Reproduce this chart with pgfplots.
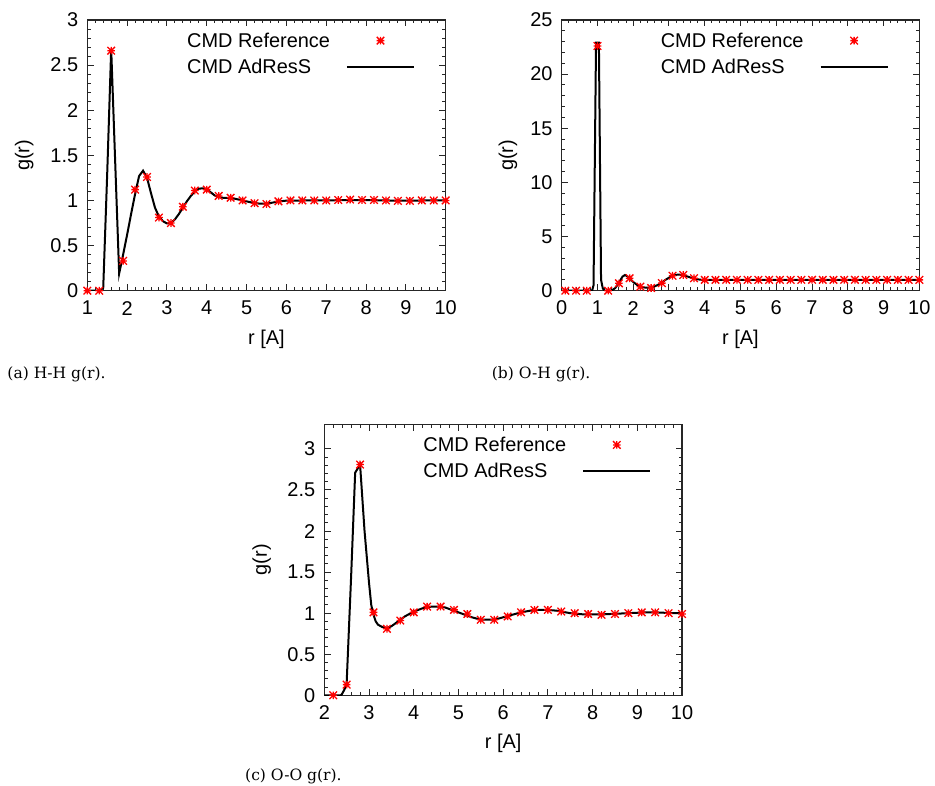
\documentclass[border=0pt]{standalone}
\usepackage{pgfplots}
\pgfplotsset{compat=1.18}
\usepackage{fontspec}
\setmainfont{Liberation Sans}
\newfontfamily\capfont{DejaVu Serif}
\pgfdeclareplotmark{gpstar}{%
  \pgfpathmoveto{\pgfqpoint{-\pgfplotmarksize}{0pt}}\pgfpathlineto{\pgfqpoint{\pgfplotmarksize}{0pt}}%
  \pgfpathmoveto{\pgfqpoint{0pt}{-\pgfplotmarksize}}\pgfpathlineto{\pgfqpoint{0pt}{\pgfplotmarksize}}%
  \pgfpathmoveto{\pgfqpoint{-\pgfplotmarksize}{-\pgfplotmarksize}}\pgfpathlineto{\pgfqpoint{\pgfplotmarksize}{\pgfplotmarksize}}%
  \pgfpathmoveto{\pgfqpoint{-\pgfplotmarksize}{\pgfplotmarksize}}\pgfpathlineto{\pgfqpoint{\pgfplotmarksize}{-\pgfplotmarksize}}%
  \pgfusepathqstroke}
\pgfplotsset{
  gpaxis/.style={
    scale only axis,
    anchor=south west,
    /pgf/number format/assume math mode=true,
    font=\fontsize{20}{24}\selectfont,
    tick label style={font=\fontsize{20}{24}\selectfont},
    axis line style={line width=1.2pt, black!85},
    tick style={line width=1pt, black!85},
    tick align=inside,
    major tick length=6.5pt,
    minor tick length=3.5pt,
    minor x tick num=4,
    minor y tick num=4,
    xticklabel style={anchor=center, inner sep=0pt, yshift=-17.5pt},
    yticklabel style={anchor=east, inner sep=0pt, xshift=-9pt},
    xlabel={r [A]},
    ylabel={g(r)},
    xlabel style={at={(axis description cs:0.5,-0.178)}, anchor=center, inner sep=0pt},
    legend cell align=left,
    legend plot pos=right,
    legend style={draw=none, fill=none, at={(axis description cs:1,1)}, anchor=north east,
      xshift=-30.7bp, yshift=-12.7bp, inner sep=0pt, outer sep=0pt,
      font=\fontsize{20}{24}\selectfont, row sep=10.4bp, nodes={inner sep=0pt},
      /tikz/every odd column/.style={column sep=16bp}},
  },
  refstyle/.style={only marks, mark=gpstar, mark size=3.8pt, color=red,
    mark options={line width=1.3pt},
    legend image code/.code={\draw[mark repeat=2,mark phase=2,##1] plot coordinates {(0bp,0bp) (33.5bp,0bp) (67bp,0bp)};}},
  linestyle/.style={black, line width=2bp, sharp plot, no marks,
    legend image code/.code={\draw[##1] (0bp,0bp) -- (67bp,0bp);}},
}
\begin{document}
\begin{tikzpicture}[x=1bp,y=1bp]
\useasboundingbox (0,0) rectangle (935,786);
% (a) H-H
\begin{axis}[gpaxis, at={(87.3bp,495.3bp)}, width=358.4bp, height=270.7bp,
  xmin=1, xmax=10, ymin=0, ymax=3, xtick={1,2,...,10}, ytick={0,0.5,...,3},
  ylabel style={at={(axis description cs:-0.176,0.5)}, anchor=center, inner sep=0pt, rotate=0}]
\addplot[refstyle] coordinates {
(1.0,0) (1.3,0) (1.6,2.66) (1.9,0.33) (2.2,1.12) (2.5,1.26) (2.8,0.81) (3.1,0.75)
(3.4,0.93) (3.7,1.11) (4.0,1.12) (4.3,1.05) (4.6,1.03) (4.9,1.00) (5.2,0.97) (5.5,0.96)
(5.8,0.99) (6.1,1.00) (6.4,1.00) (6.7,1.00) (7.0,1.00) (7.3,1.005) (7.6,1.01) (7.9,1.005)
(8.2,1.005) (8.5,1.00) (8.8,0.995) (9.1,0.995) (9.4,1.00) (9.7,1.00) (10.0,1.00)};
\addlegendentry{CMD Reference}
\addplot[linestyle] coordinates {
(1.0,0) (1.1,0) (1.2,0) (1.3,0) (1.4,0.03) (1.5,1.3) (1.6,2.68) (1.7,1.43) (1.8,0.19)
(1.9,0.4) (2.0,0.62) (2.1,0.85) (2.2,1.07) (2.3,1.27) (2.4,1.33) (2.5,1.25) (2.6,1.08)
(2.7,0.92) (2.8,0.82) (2.9,0.77) (3.0,0.745) (3.1,0.75) (3.2,0.79) (3.3,0.85) (3.4,0.92)
(3.5,0.99) (3.6,1.05) (3.7,1.10) (3.8,1.13) (3.9,1.135) (4.0,1.12) (4.1,1.09) (4.2,1.055)
(4.3,1.035) (4.4,1.03) (4.5,1.028) (4.6,1.025) (4.7,1.02) (4.8,1.01) (4.9,1.0) (5.0,0.99)
(5.1,0.98) (5.2,0.972) (5.3,0.966) (5.4,0.964) (5.5,0.965) (5.6,0.972) (5.7,0.98)
(5.8,0.987) (5.9,0.993) (6.0,0.998) (6.5,1.0) (7.0,1.0) (7.5,1.005) (8.0,1.005) (8.5,1.0)
(9.0,0.997) (9.5,1.0) (10.0,1.0)};
\addlegendentry{CMD AdResS}
\end{axis}
% (b) O-H
\begin{axis}[gpaxis, at={(561.7bp,495.3bp)}, width=357.6bp, height=270.7bp,
  xmin=0, xmax=10, ymin=0, ymax=25, xtick={0,1,...,10}, ytick={0,5,...,25},
  ylabel style={at={(axis description cs:-0.150,0.5)}, anchor=center, inner sep=0pt}]
\addplot[refstyle] coordinates {
(0.1,0) (0.4,0) (0.7,0) (1.0,22.6) (1.3,0) (1.6,0.68) (1.9,1.15) (2.2,0.37) (2.5,0.25)
(2.8,0.7) (3.1,1.38) (3.4,1.45) (3.7,1.15) (4.0,1.0) (4.3,1.0) (4.6,1.0) (4.9,1.0)
(5.2,1.0) (5.5,1.0) (5.8,1.0) (6.1,1.0) (6.4,1.0) (6.7,1.0) (7.0,1.0) (7.3,1.0) (7.6,1.0)
(7.9,1.0) (8.2,1.0) (8.5,1.0) (8.8,1.0) (9.1,1.0) (9.4,1.0) (9.7,1.0) (10.0,1.0)};
\addlegendentry{CMD Reference}
\addplot[linestyle] coordinates {
(0,0) (0.5,0) (0.85,0) (0.89,0.5) (0.96,22.9) (1.04,22.9) (1.1,1.0) (1.15,0.2) (1.2,0)
(1.3,0) (1.4,0.02) (1.5,0.25) (1.6,0.75) (1.7,1.3) (1.77,1.45) (1.85,1.3) (1.9,1.15)
(2.0,0.8) (2.1,0.55) (2.2,0.4) (2.3,0.3) (2.4,0.27) (2.5,0.3) (2.6,0.4) (2.7,0.55)
(2.8,0.75) (2.9,1.0) (3.0,1.2) (3.1,1.38) (3.2,1.47) (3.3,1.48) (3.4,1.43) (3.5,1.33)
(3.6,1.22) (3.7,1.12) (3.8,1.05) (3.9,1.01) (4.0,1.0) (5.0,1.0) (6.0,1.0) (7.0,1.0)
(8.0,1.0) (9.0,1.0) (10.0,1.0)};
\addlegendentry{CMD AdResS}
\end{axis}
% (c) O-O
\begin{axis}[gpaxis, at={(324.3bp,90.7bp)}, width=357.7bp, height=271bp,
  xmin=2, xmax=10, ymin=0, ymax=3.3, xtick={2,3,...,10}, ytick={0,0.5,...,3},
  ylabel style={at={(axis description cs:-0.175,0.5)}, anchor=center, inner sep=0pt}]
\addplot[refstyle] coordinates {
(2.2,0) (2.5,0.13) (2.8,2.81) (3.1,1.01) (3.4,0.81) (3.7,0.91) (4.0,1.01) (4.3,1.08)
(4.6,1.08) (4.9,1.04) (5.2,0.99) (5.5,0.92) (5.8,0.92) (6.1,0.96) (6.4,1.01) (6.7,1.04)
(7.0,1.04) (7.3,1.02) (7.6,1.0) (7.9,0.99) (8.2,0.98) (8.5,0.99) (8.8,1.0) (9.1,1.01)
(9.4,1.01) (9.7,1.0) (10.0,0.99)};
\addlegendentry{CMD Reference}
\addplot[linestyle] coordinates {
(2.0,0) (2.3,0) (2.37,0) (2.4,0.02) (2.45,0.07) (2.5,0.15) (2.6,1.45) (2.69,2.71)
(2.8,2.81) (2.9,2.0) (3.0,1.37) (3.05,1.1) (3.1,0.98) (3.15,0.9) (3.2,0.86) (3.3,0.83)
(3.4,0.82) (3.5,0.84) (3.6,0.88) (3.7,0.92) (3.8,0.96) (3.9,0.99) (4.0,1.02) (4.1,1.04)
(4.2,1.06) (4.3,1.07) (4.4,1.08) (4.5,1.08) (4.6,1.08) (4.7,1.07) (4.8,1.05) (4.9,1.03)
(5.0,1.01) (5.1,0.99) (5.2,0.97) (5.3,0.95) (5.4,0.935) (5.5,0.925) (5.6,0.92) (5.7,0.92)
(5.8,0.925) (5.9,0.935) (6.0,0.95) (6.1,0.965) (6.2,0.98) (6.3,0.995) (6.4,1.01)
(6.5,1.02) (6.6,1.03) (6.7,1.035) (6.8,1.04) (6.9,1.04) (7.0,1.04) (7.1,1.035)
(7.2,1.03) (7.3,1.02) (7.4,1.01) (7.5,1.0) (7.6,0.995) (7.7,0.99) (7.8,0.985) (7.9,0.985)
(8.0,0.985) (8.2,0.985) (8.4,0.99) (8.6,0.995) (8.8,1.0) (9.0,1.005) (9.2,1.01)
(9.4,1.01) (9.6,1.005) (9.8,1.0) (10.0,1.0)};
\addlegendentry{CMD AdResS}
\end{axis}
\node[anchor=west, inner sep=0pt, font=\capfont\fontsize{15.6}{19}\selectfont] at (7.3,412) {(a) H-H g(r).};
\node[anchor=west, inner sep=0pt, font=\capfont\fontsize{15.6}{19}\selectfont] at (491.7,412) {(b) O-H g(r).};
\node[anchor=west, inner sep=0pt, font=\capfont\fontsize{15.6}{19}\selectfont] at (245,10) {(c) O-O g(r).};
\end{tikzpicture}
\end{document}
